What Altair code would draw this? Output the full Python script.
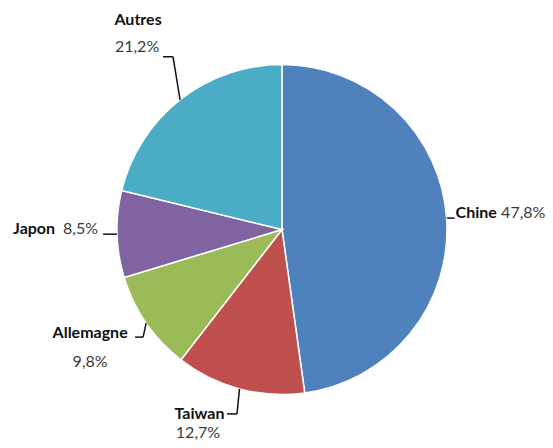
import altair as alt
import pandas as pd

# ---- data ----
names = ["Chine", "Taiwan", "Allemagne", "Japon", "Autres"]
shares = [47.8, 12.7, 9.8, 8.5, 21.2]
colors = ["#4F81BD", "#C0504D", "#9BBB59", "#8064A2", "#4BACC6"]
pct_labels = [f"{s:.1f}%".replace(".", ",") for s in shares]

# ---- layout / style ----
CX, CY, R = 274, 221.5, 165
FONT = "Lato"
FS = 16

# label offsets relative to the slice's edge point (mid angle on the rim)
styles = {
    "Chine":     dict(n=(9, -5, "left"),     p=(54.5, -5, "left"),   e=(1, 0),     h=7),
    "Taiwan":    dict(n=(-40, 25, "center"), p=(-41.5, 44, "center"), e=(-2.5, 25), h=-10),
    "Allemagne": dict(n=(-56, 10, "center"), p=(-56, 39, "center"),  e=(-3, 14),   h=-8),
    "Japon":     dict(n=(-62, -5, "right"),  p=(-19, -5, "right"),   e=(0, 0),     h=-14),
    "Autres":    dict(n=(-42, -80, "center"), p=(-43, -53, "center"), e=(-7, -43),  h=-10),
}

df = pd.DataFrame({
    "name": names,
    "share": shares,
    "idx": list(range(len(names))),
    "pct": pct_labels,
})

base = (
    alt.Chart(df)
    .transform_joinaggregate(total="sum(share)")
    .transform_window(cum="sum(share)", sort=[alt.SortField("idx")], frame=[None, 0])
    .transform_calculate(
        ang="(datum.cum - datum.share/2) / datum.total * 2 * PI",
    )
    .transform_calculate(
        ex=f"{CX} + {R} * sin(datum.ang)",
        ey=f"{CY} - {R} * cos(datum.ang)",
    )
)

pie = alt.Chart(df).mark_arc(radius=R, stroke="white", strokeWidth=1.5).encode(
    theta=alt.Theta("share:Q", stack=True),
    order=alt.Order("idx:Q"),
    color=alt.Color("name:N", scale=alt.Scale(domain=names, range=colors), legend=None),
    x=alt.value(CX),
    y=alt.value(CY),
)

layers = [pie]
for nm in names:
    st = styles[nm]
    sub = base.transform_filter(alt.datum.name == nm)
    ndx, ndy, nal = st["n"]
    pdx, pdy, pal = st["p"]
    layers.append(
        sub.mark_text(dx=ndx, dy=ndy, align=nal, baseline="middle", font=FONT,
                      fontSize=FS, fontWeight="bold", color="#111111").encode(
            x=alt.X("ex:Q", scale=None), y=alt.Y("ey:Q", scale=None), text="name:N")
    )
    layers.append(
        sub.mark_text(dx=pdx, dy=pdy, align=pal, baseline="middle", font=FONT,
                      fontSize=FS, color="#3a3a3a").encode(
            x=alt.X("ex:Q", scale=None), y=alt.Y("ey:Q", scale=None), text="pct:N")
    )
    edx, edy = st["e"]
    lead = sub.transform_calculate(
        bx=f"datum.ex + ({edx})", by=f"datum.ey + ({edy})"
    ).transform_calculate(cx2=f"datum.bx + ({st['h']})")
    layers.append(
        lead.mark_rule(color="#111111", strokeWidth=1.5).encode(
            x=alt.X("ex:Q", scale=None), y=alt.Y("ey:Q", scale=None),
            x2="bx:Q", y2="by:Q")
    )
    layers.append(
        lead.mark_rule(color="#111111", strokeWidth=1.5).encode(
            x=alt.X("bx:Q", scale=None), y=alt.Y("by:Q", scale=None),
            x2="cx2:Q", y2="by:Q")
    )

chart = (
    alt.layer(*layers)
    .properties(width=537, height=432, autosize=alt.AutoSizeParams(type="none"), padding=0)
    .configure_view(stroke=None)
)

chart.save("out.html", embed_options={"renderer": "svg", "actions": False})
